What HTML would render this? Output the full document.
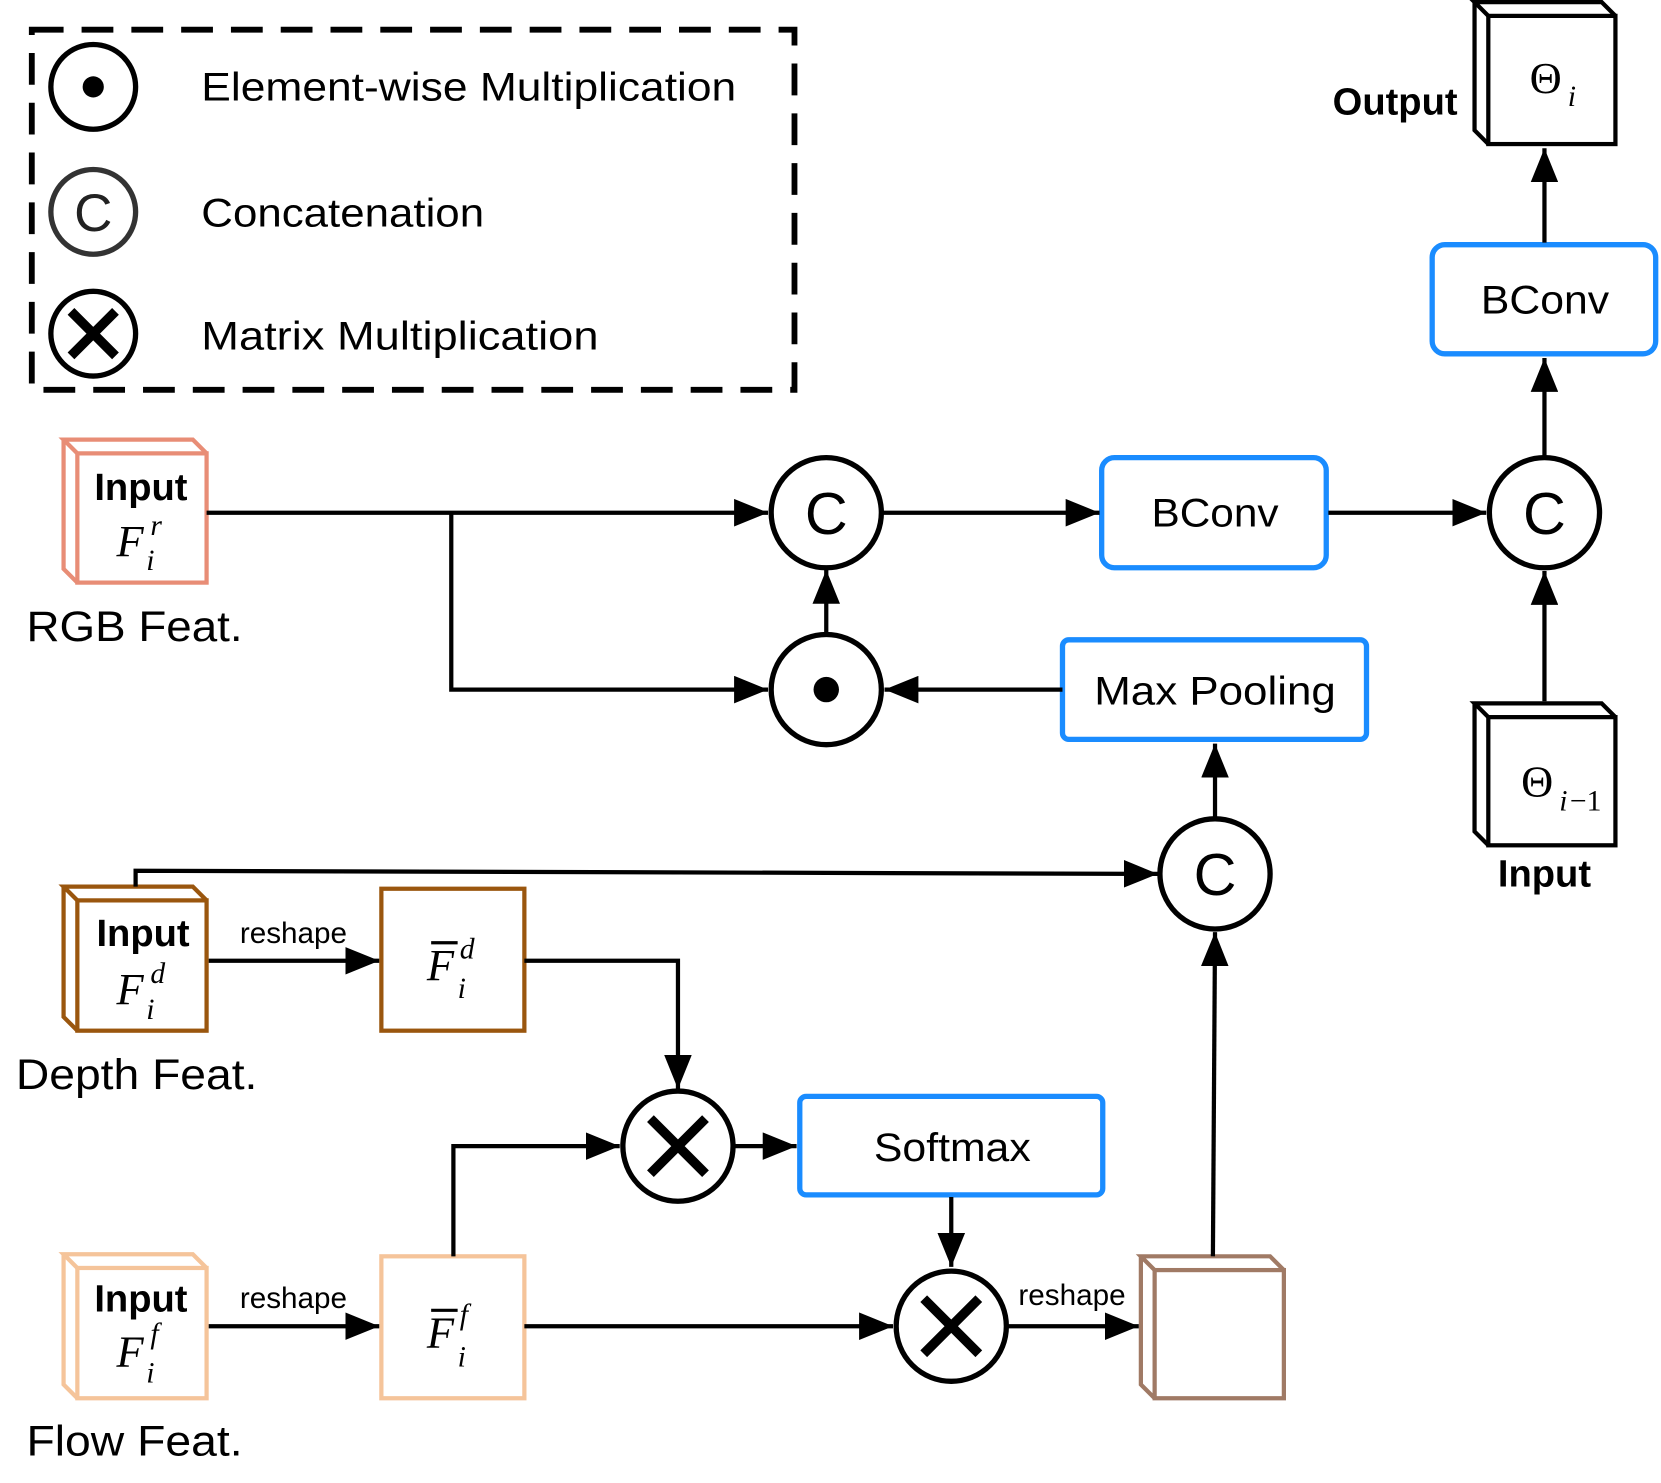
<!DOCTYPE html>
<html><head><meta charset="utf-8"><style>
html,body{margin:0;padding:0;background:#fff}
svg{display:block}
text{font-family:"Liberation Sans",sans-serif}
.s text{font-family:"Liberation Serif",serif;font-style:italic}
.t text{font-family:"Liberation Serif",serif}
</style></head><body>
<svg width="1661" height="1483" viewBox="0 0 1568 1400" xmlns="http://www.w3.org/2000/svg">
<defs>
<marker id="a" markerUnits="userSpaceOnUse" markerWidth="34" markerHeight="26" refX="32" refY="13" orient="auto">
<path d="M0,0 L32,13 L0,26 Z" fill="#000"/></marker>
</defs>
<!-- legend -->
<rect x="30" y="28" width="720" height="340" fill="none" stroke="#000" stroke-width="5.5" stroke-dasharray="30 17"/>
<circle cx="88" cy="82" r="40" fill="none" stroke="#000" stroke-width="5"/>
<circle cx="88" cy="82" r="10" fill="#000"/>
<circle cx="88" cy="200" r="40" fill="none" stroke="#333" stroke-width="5"/>
<text x="88" y="218" font-size="50" text-anchor="middle" fill="#222">C</text>
<circle cx="88" cy="315" r="40" fill="none" stroke="#000" stroke-width="5"/>
<path d="M67,294 L109,336 M109,294 L67,336" stroke="#000" stroke-width="9"/>
<text x="190" y="95" font-size="38" textLength="505" lengthAdjust="spacingAndGlyphs">Element-wise Multiplication</text>
<text x="190" y="214" font-size="38" textLength="267" lengthAdjust="spacingAndGlyphs">Concatenation</text>
<text x="190" y="330" font-size="38" textLength="375" lengthAdjust="spacingAndGlyphs">Matrix Multiplication</text>

<g stroke-width="4" fill="none">
<g stroke="#e88d76"><rect x="73" y="428" width="122" height="122" fill="#fff"/><path d="M73,428 L60,415 L182,415 L195,428 M60,415 L60,537 L73,550"/></g>
<g stroke="#9a560e"><rect x="73" y="850" width="122" height="123"/><path d="M73,850 L60,837 L182,837 L195,850 M60,837 L60,960 L73,973"/></g>
<rect x="360" y="839" width="135" height="134" stroke="#9a560e"/>
<g stroke="#f5c49a"><rect x="73" y="1197" width="122" height="123"/><path d="M73,1197 L60,1184 L182,1184 L195,1197 M60,1184 L60,1307 L73,1320"/></g>
<rect x="360" y="1186" width="135" height="134" stroke="#f5c49a"/>
<g stroke="#a07a65"><rect x="1090" y="1199" width="122" height="121"/><path d="M1090,1199 L1077,1186 L1199,1186 L1212,1199 M1077,1186 L1077,1307 L1090,1320"/></g>
<g stroke="#000"><rect x="1405" y="15" width="120" height="121"/><path d="M1405,15 L1392,2 L1512,2 L1525,15 M1392,2 L1392,123 L1405,136"/></g>
<g stroke="#000"><rect x="1405" y="677" width="120" height="121"/><path d="M1405,677 L1392,664 L1512,664 L1525,677 M1392,664 L1392,785 L1405,798"/></g>
</g>
<g fill="none" stroke="#1a8cff" stroke-width="5">
<rect x="1040" y="432" width="212" height="104" rx="12"/>
<rect x="1352" y="231" width="211" height="103" rx="12"/>
<rect x="1003" y="604" width="287" height="94" rx="6"/>
<rect x="755" y="1035" width="286" height="93" rx="6"/>
</g>
<g stroke="#000" stroke-width="4" fill="none">
<path d="M195,484 L725,484" marker-end="url(#a)"/>
<path d="M426,484 L426,651 L725,651" marker-end="url(#a)"/>
<path d="M780,599 L780,538" marker-end="url(#a)"/>
<path d="M833,484 L1038,484" marker-end="url(#a)"/>
<path d="M1254,484 L1403,484" marker-end="url(#a)"/>
<path d="M1458,430 L1458,338" marker-end="url(#a)"/>
<path d="M1458,229 L1458,140" marker-end="url(#a)"/>
<path d="M1458,662 L1458,539" marker-end="url(#a)"/>
<path d="M1003,651 L835,651" marker-end="url(#a)"/>
<path d="M1147,773 L1147,702" marker-end="url(#a)"/>
<path d="M128,837 L128,822 L1093,825" marker-end="url(#a)"/>
<path d="M197,907 L358,907" marker-end="url(#a)"/>
<path d="M495,907 L640,907 L640,1028" marker-end="url(#a)"/>
<path d="M692,1082 L752,1082" marker-end="url(#a)"/>
<path d="M898,1130 L898,1196" marker-end="url(#a)"/>
<path d="M197,1252 L358,1252" marker-end="url(#a)"/>
<path d="M428,1186 L428,1082 L585,1082" marker-end="url(#a)"/>
<path d="M495,1252 L843,1252" marker-end="url(#a)"/>
<path d="M950,1252 L1075,1252" marker-end="url(#a)"/>
<path d="M1145,1186 L1147,880" marker-end="url(#a)"/>
</g>
<g fill="#fff" stroke="#000" stroke-width="5">
<circle cx="780" cy="484" r="52"/><circle cx="780" cy="651" r="52"/>
<circle cx="1458" cy="484" r="52"/><circle cx="1147" cy="825" r="52"/>
<circle cx="640" cy="1082" r="52"/><circle cx="898" cy="1252" r="52"/>
</g>
<circle cx="780" cy="651" r="12" fill="#000"/>
<g font-size="56" text-anchor="middle">
<text x="780" y="504">C</text><text x="1458" y="504">C</text><text x="1147" y="845">C</text>
</g>
<path d="M614,1056 L666,1108 M666,1056 L614,1108 M872,1226 L924,1278 M924,1226 L872,1278" stroke="#000" stroke-width="9"/>
<g font-size="38" lengthAdjust="spacingAndGlyphs">
<text x="1087" y="497" textLength="120" lengthAdjust="spacingAndGlyphs">BConv</text>
<text x="1398" y="296" textLength="121" lengthAdjust="spacingAndGlyphs">BConv</text>
<text x="1033" y="665" textLength="228" lengthAdjust="spacingAndGlyphs">Max Pooling</text>
<text x="825" y="1096" textLength="148" lengthAdjust="spacingAndGlyphs">Softmax</text>
</g>
<g font-size="28" text-anchor="middle">
<text x="277" y="890">reshape</text>
<text x="277" y="1235">reshape</text>
<text x="1012" y="1232">reshape</text>
</g>
<g font-size="36" font-weight="bold" text-anchor="middle">
<text x="133" y="472">Input</text>
<text x="135" y="893">Input</text>
<text x="133" y="1238">Input</text>
<text x="1458" y="837">Input</text>
<text x="1376" y="108" text-anchor="end">Output</text>
</g>
<g font-size="40">
<text x="25" y="605" textLength="204" lengthAdjust="spacingAndGlyphs">RGB Feat.</text>
<text x="15" y="1028" textLength="228" lengthAdjust="spacingAndGlyphs">Depth Feat.</text>
<text x="25" y="1374" textLength="204" lengthAdjust="spacingAndGlyphs">Flow Feat.</text>
</g>
<g class="s">
<text x="110" y="525" font-size="42">F</text><text x="142" y="505" font-size="28">r</text><text x="138" y="538" font-size="28">i</text>
<text x="110" y="948" font-size="42">F</text><text x="142" y="928" font-size="28">d</text><text x="138" y="962" font-size="28">i</text>
<text x="110" y="1290" font-size="42">F</text><text x="142" y="1268" font-size="28">f</text><text x="138" y="1305" font-size="28">i</text>
<text x="403" y="925" font-size="42">F</text><text x="434" y="905" font-size="28">d</text><text x="432" y="942" font-size="28">i</text>
<text x="403" y="1272" font-size="42">F</text><text x="434" y="1250" font-size="28">f</text><text x="432" y="1290" font-size="28">i</text>
<text x="1480" y="100" font-size="28">i</text>
<text x="1472" y="765" font-size="28">i</text>
</g>
<path d="M407,890 L432,890 M407,1237 L432,1237" stroke="#000" stroke-width="3"/>
<g class="t" font-size="42">
<text x="1444" y="88">Θ</text>
<text x="1436" y="752">Θ</text>
<text x="1482" y="765" font-size="28">−1</text>
</g>
</svg>
</body></html>
